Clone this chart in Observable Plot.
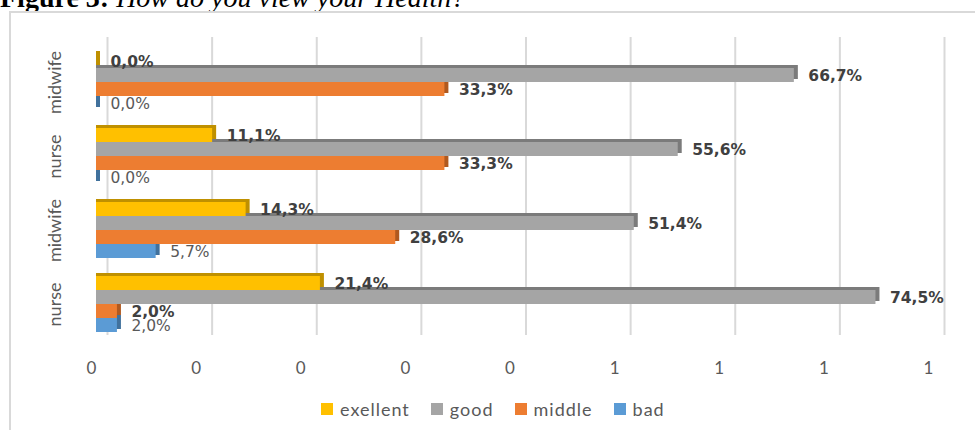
<!DOCTYPE html>
<html>
<head>
<meta charset="utf-8">
<script src="https://cdn.jsdelivr.net/npm/d3@7"></script>
<script src="https://cdn.jsdelivr.net/npm/@observablehq/plot@0.6"></script>
<style>
  html, body { margin: 0; padding: 0; background: #fff; width: 975px; height: 430px; overflow: hidden; position: relative; }
  #title { position: absolute; left: 0; top: -16px; font: 28px/28px "Liberation Serif", "Times New Roman", serif; color: #000; white-space: nowrap; }
  #title b { font-weight: bold; }
  #title i { font-style: italic; }
  #box { position: absolute; left: 9px; top: 11px; width: 980px; height: 440px; border: 2px solid #d9d9d9; box-sizing: border-box; }
  #bg, #fg { position: absolute; left: 0; top: 0; }
  g[aria-label="datalabel"] text { letter-spacing: 1px; }
  #legend { position: absolute; left: 321px; top: 398px; display: flex; align-items: center; gap: 21px; font: 18px Lato, "Open Sans", sans-serif; color: #595959; letter-spacing: 1px; }
  #legend .item { display: flex; align-items: center; }
  #legend .sw { width: 12px; height: 12px; margin-right: 7px; display: inline-block; }
</style>
</head>
<body>
<div id="title"><b>Figure 3:</b> <i>How do you view your Health?</i></div>
<div id="box"></div>
<div id="bg"></div>
<div id="fg"></div>
<div id="legend"></div>
<script>
// ---- data (top to bottom groups) ----
const groups = ["g1", "g2", "g3", "g4"];
const groupLabels = ["midwife", "nurse", "midwife", "nurse"];
const series = ["exellent", "good", "middle", "bad"];
const excellent = [0.0, 11.1, 14.3, 21.4];
const good = [66.7, 55.6, 51.4, 74.5];
const middle = [33.3, 33.3, 28.6, 2.0];
const bad = [0.0, 0.0, 5.7, 2.0];
const xTicks = [0, 10, 20, 30, 40, 50, 60, 70, 80];
const xTickLabels = ["0", "0", "0", "0", "0", "1", "1", "1", "1"];

const colors = ["#FFC000", "#A5A5A5", "#ED7D31", "#5B9BD5"];
const darkColors = ["#BF9000", "#7B7B7B", "#B0591F", "#41719C"];

const seriesValues = [excellent, good, middle, bad];
const rows = [];
groups.forEach((g, gi) => {
  series.forEach((s, si) => {
    rows.push({group: g, series: s, value: seriesValues[si][gi]});
  });
});
const labelRows = groups.map((g, i) => ({group: g, label: groupLabels[i]}));
const fmt = d => d.value.toFixed(1).replace(".", ",") + "%";

const W = 975, H = 390;

// background: gridlines + x tick labels
const bg = Plot.plot({
  width: W, height: H,
  marginLeft: 96, marginRight: 42, marginTop: 37, marginBottom: 55,
  x: {domain: [0, 80], axis: null},
  style: {background: "transparent", overflow: "visible"},
  marks: [
    Plot.ruleX(xTicks, {x: d => d, dx: 11, stroke: "#d9d9d9", strokeWidth: 2}),
    Plot.text(xTicks, {x: d => d, text: (d, i) => xTickLabels[i], frameAnchor: "bottom", dy: 38, dx: -5,
      fill: "#595959", fontSize: 17, fontFamily: "Lato, 'Open Sans', sans-serif"})
  ]
});
document.getElementById("bg").appendChild(bg);

// foreground: bars
const fg = Plot.plot({
  width: W, height: H,
  marginLeft: 96, marginRight: 42, marginTop: 44, marginBottom: 48,
  x: {domain: [0, 80], axis: null},
  y: {domain: series, axis: null, padding: 0},
  fy: {domain: groups, axis: null, paddingInner: 0.25, paddingOuter: 0.125},
  color: {domain: series, range: colors},
  style: {background: "transparent", overflow: "visible"},
  marks: [
    ...series.map((s, si) => Plot.barX(rows.filter(d => d.series === s), {
      x: "value", y: "series", fy: "group", fill: darkColors[si], insetRight: -4, dy: -3
    })),
    Plot.barX(rows, {x: "value", y: "series", fy: "group", fill: "series"}),
    Plot.text(rows.filter(d => d.series !== "bad"), {
      x: "value", y: "series", fy: "group", text: fmt, dx: 14, dy: 1, textAnchor: "start",
      fontWeight: "bold", fontSize: 15.5, fill: "#404040", fontFamily: "'DejaVu Sans', Verdana, sans-serif",
      ariaLabel: "datalabel"
    }),
    Plot.text(rows.filter(d => d.series === "bad"), {
      x: "value", y: "series", fy: "group", text: fmt, dx: 14, dy: 1, textAnchor: "start",
      fontWeight: "normal", fontSize: 15.5, fill: "#595959", fontFamily: "'DejaVu Sans', Verdana, sans-serif",
      ariaLabel: "datalabel"
    }),
    Plot.text(labelRows, {
      fy: "group", text: "label", frameAnchor: "left", textAnchor: "middle", rotate: -90, dx: -41,
      fontSize: 18, fill: "#595959", fontFamily: "Lato, 'Open Sans', sans-serif"
    })
  ]
});
document.getElementById("fg").appendChild(fg);

// legend
const legend = document.getElementById("legend");
series.forEach((s, i) => {
  const item = document.createElement("div");
  item.className = "item";
  const sw = document.createElement("span");
  sw.className = "sw";
  sw.style.background = colors[i];
  const t = document.createElement("span");
  t.textContent = s;
  item.appendChild(sw);
  item.appendChild(t);
  legend.appendChild(item);
});
</script>
</body>
</html>
